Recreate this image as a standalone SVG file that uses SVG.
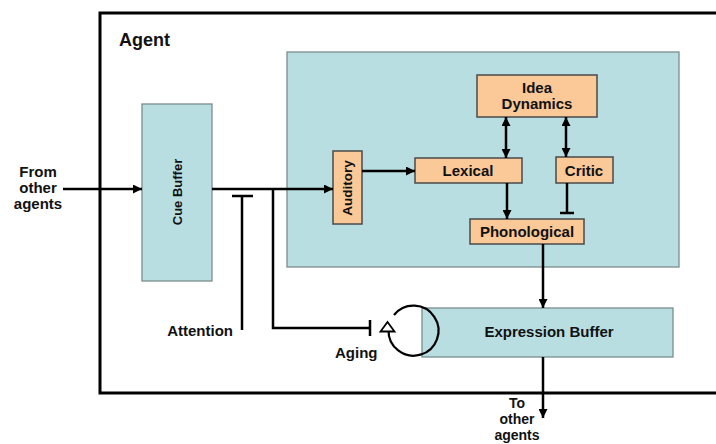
<svg xmlns="http://www.w3.org/2000/svg" width="716" height="444" viewBox="0 0 716 444">
<style>
text{font-family:"Liberation Sans",Arial,sans-serif;font-weight:bold;fill:#111;}
.lbl{font-size:15px;}
.mid{text-anchor:middle;}
.teal{fill:#b8dee2;stroke:#7c8c8e;stroke-width:1.3;}
.orange{fill:#fbc898;stroke:#4a4a4a;stroke-width:1.5;}
.ln{fill:none;stroke:#000;stroke-width:2.5;}
.arr{marker-end:url(#ah);}
.dbl{marker-start:url(#ah);marker-end:url(#ah);}
</style>
<defs>
<marker id="ah" viewBox="0 0 10 10" refX="10" refY="5" markerWidth="9" markerHeight="9" markerUnits="userSpaceOnUse" orient="auto-start-reverse">
<path d="M0,0 L10,5 L0,10 z" fill="#000"/>
</marker>
</defs>
<rect width="716" height="444" fill="#fff"/>
<g id="agent">
<path d="M716,13 H100 V393 H716" fill="none" stroke="#000" stroke-width="3"/>
<text x="119" y="46" style="font-size:18px">Agent</text>
</g>
<g id="core">
<rect class="teal" x="287" y="52" width="392" height="215"/>
</g>
<g id="cue-buffer">
<rect class="teal" x="142" y="104" width="70" height="177"/>
<text class="mid" transform="translate(182,192) rotate(-90)" style="font-size:13px">Cue Buffer</text>
</g>
<g id="expression-buffer">
<rect class="teal" x="422" y="308" width="251" height="49"/>
<text class="lbl mid" x="549" y="337">Expression Buffer</text>
</g>
<g id="auditory">
<rect class="orange" x="333" y="151" width="29" height="73"/>
<text class="mid" transform="translate(352,188) rotate(-90)" style="font-size:13.5px">Auditory</text>
</g>
<g id="idea-dynamics">
<rect class="orange" x="477" y="75" width="120" height="42"/>
<text class="lbl mid" x="537" y="93">Idea</text>
<text class="lbl mid" x="537" y="109">Dynamics</text>
</g>
<g id="lexical">
<rect class="orange" x="415" y="158" width="107" height="25"/>
<text class="lbl mid" x="468" y="176">Lexical</text>
</g>
<g id="critic">
<rect class="orange" x="556" y="157" width="57" height="26"/>
<text class="lbl mid" x="584" y="176">Critic</text>
</g>
<g id="phonological">
<rect class="orange" x="470" y="219" width="114" height="25"/>
<text class="lbl mid" x="527" y="237">Phonological</text>
</g>
<g id="labels">
<text class="lbl mid" x="38" y="177">From</text>
<text class="lbl mid" x="38" y="193">other</text>
<text class="lbl mid" x="38" y="209">agents</text>
<text class="lbl" x="233" y="336" text-anchor="end">Attention</text>
<text class="lbl" x="335" y="358">Aging</text>
<text class="mid" x="517" y="408" style="font-size:14px">To</text>
<text class="mid" x="517" y="424" style="font-size:14px">other</text>
<text class="mid" x="517" y="440" style="font-size:14px">agents</text>
</g>
<g id="connectors">
<line class="ln arr" x1="63" y1="189" x2="142" y2="189"/>
<line class="ln arr" x1="212" y1="189" x2="333" y2="189"/>
<line class="ln" x1="242" y1="330" x2="242" y2="196"/>
<line class="ln" x1="232" y1="196" x2="253" y2="196"/>
<path class="ln" d="M273,189 V328 H370"/>
<line class="ln" x1="370" y1="320" x2="370" y2="336"/>
<line class="ln arr" x1="362" y1="171" x2="415" y2="171"/>
<line class="ln dbl" x1="506" y1="117" x2="506" y2="158"/>
<line class="ln dbl" x1="566" y1="117" x2="566" y2="157"/>
<line class="ln arr" x1="507" y1="183" x2="507" y2="219"/>
<line class="ln" x1="567" y1="183" x2="567" y2="213"/>
<line class="ln" x1="560" y1="213" x2="574" y2="213"/>
<line class="ln arr" x1="543" y1="244" x2="543" y2="308"/>
<line class="ln arr" x1="543" y1="357" x2="543" y2="418"/>
<path d="M394,315 A25,25 0 1 1 388.5,330" fill="none" stroke="#000" stroke-width="2.2"/>
<polygon points="387.5,322 380.5,331.5 394.5,331.5" fill="#fff" stroke="#000" stroke-width="1.8"/>
</g>
</svg>
